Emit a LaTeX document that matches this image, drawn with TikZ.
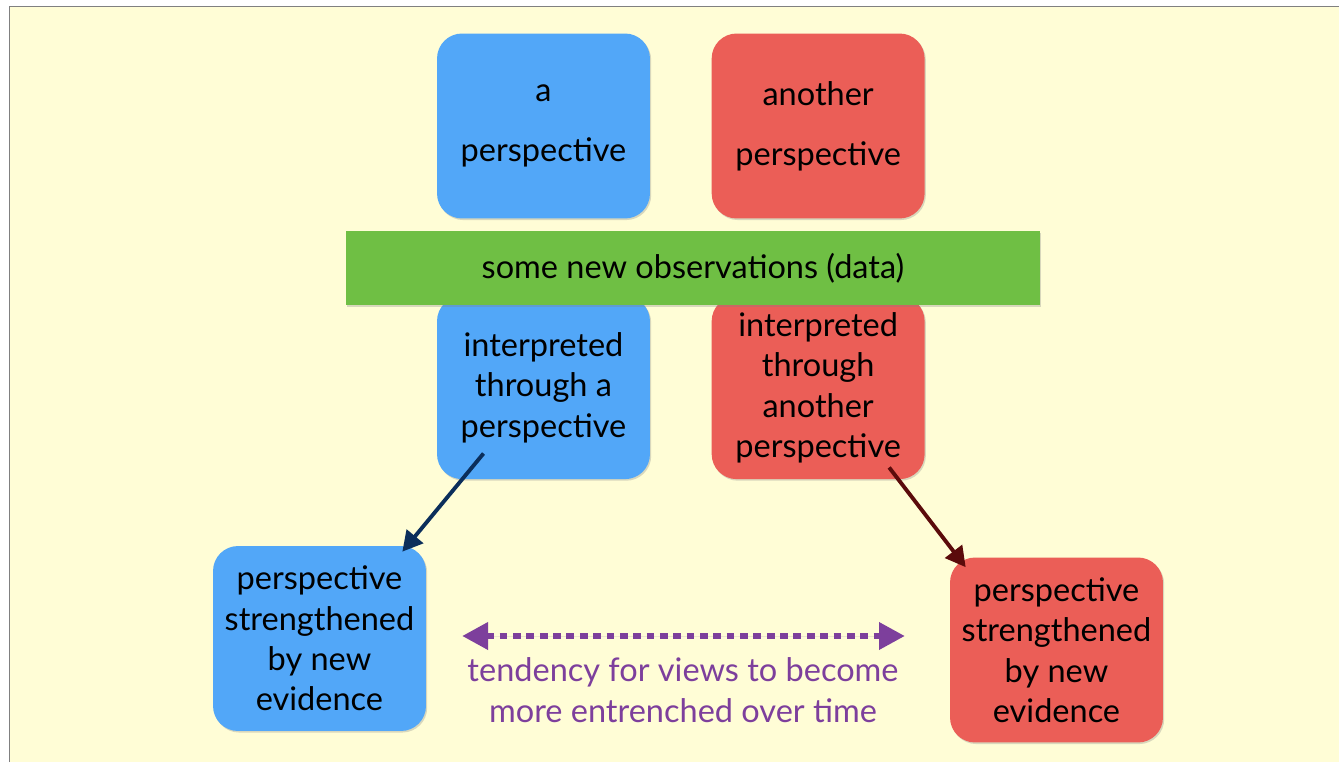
\documentclass[tikz,border=0pt]{standalone}
\usepackage{fontspec}
\setmainfont{Lato}
\usetikzlibrary{arrows.meta,positioning,calc,shadows}
\definecolor{pvblue}{HTML}{52A7F8}
\definecolor{pvred}{HTML}{EB5E57}
\definecolor{pvgreen}{HTML}{6FBF44}
\definecolor{pvback}{HTML}{FFFDD6}
\definecolor{pvnavy}{HTML}{0B2E5B}
\definecolor{pvmaroon}{HTML}{5B0B0B}
\definecolor{pvpurple}{HTML}{7D3F9C}
\tikzset{
  viewBox/.style={rounded corners=0.5cm, minimum width=4.26cm, minimum height=3.7cm, align=center, inner sep=2pt,
    font=\fontsize{18.5}{23}\selectfont, drop shadow={shadow xshift=0.7pt, shadow yshift=-0.9pt, opacity=0.3}},
  dataBar/.style={fill=pvgreen, minimum width=13.88cm, minimum height=1.48cm, font=\fontsize{18.5}{23}\selectfont,
    drop shadow={shadow xshift=0.7pt, shadow yshift=-0.9pt, opacity=0.3}},
  viewArrow/.style={-{Triangle[length=4mm, width=4.2mm]}, line width=2.2pt},
  trendArrow/.style={{Triangle[length=5.2mm, width=5.2mm]}-{Triangle[length=5.2mm, width=5.2mm]}, line width=3.8pt,
    dash pattern=on 4.4pt off 3.2pt, draw=pvpurple, fill=pvpurple},
  trendLabel/.style={text=pvpurple, align=center, font=\fontsize{18.5}{23}\selectfont}
}
\begin{document}
\begin{tikzpicture}[x=0.02cm, y=0.02cm]
  \useasboundingbox (0,0) rectangle (1339,762);
  \fill[white] (0,0) rectangle (1339,762);
  \fill[pvback] (10,0) rectangle (1339,755);
  \draw[gray, line width=0.8pt] (9.6,0) -- (9.6,755.4) -- (1339,755.4);
  % two starting views
  \node[viewBox, fill=pvblue] (aview) at (543.5,636) {a\\[11pt]perspective};
  \node[viewBox, fill=pvred, right=1.22cm of aview] (oview) {another\\[11pt]perspective};
  \node[viewBox, fill=pvblue, minimum height=3.66cm, below=1.54cm of aview] (aread) {interpreted\\through a\\perspective};
  \node[viewBox, fill=pvred, minimum height=3.66cm, below=1.54cm of oview] (oread) {interpreted\\through\\another\\perspective};
  \node[dataBar] (data) at (693,494) {some new observations (data)};
  % strengthened views
  \node[viewBox, fill=pvblue] (astrong) at (319.5,123.5) {perspective\\strengthened\\by new\\evidence};
  \node[viewBox, fill=pvred] (ostrong) at (1056.5,112) {perspective\\strengthened\\by new\\evidence};
  \draw[viewArrow, draw=pvnavy, fill=pvnavy] ([shift={(-60,26)}]aread.south) -- ([shift={(-24,-6)}]astrong.north east);
  \draw[viewArrow, draw=pvmaroon, fill=pvmaroon] ([shift={(71,12)}]oread.south) -- ([shift={(16,-10)}]ostrong.north west);
  \coordinate (trendL) at (462,126);
  \coordinate (trendR) at (905,126);
  \draw[trendArrow] (trendL) -- (trendR);
  \node[trendLabel] (trend) at (683,72) {tendency for views to become\\more entrenched over time};
\end{tikzpicture}
\end{document}
